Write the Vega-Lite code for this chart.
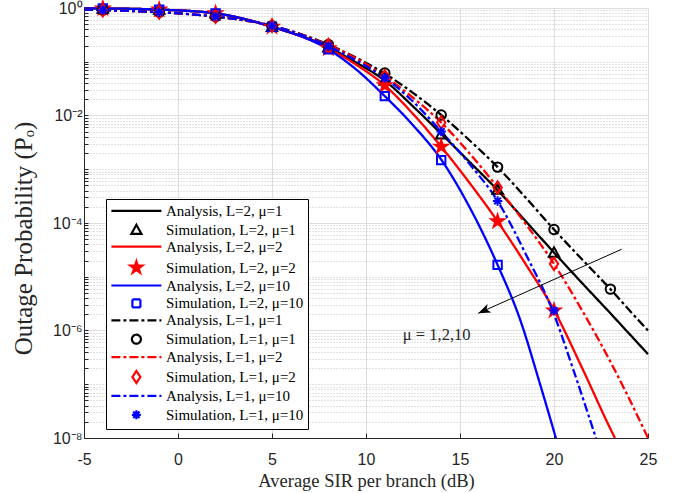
{
  "$schema": "https://vega.github.io/schema/vega-lite/v6.json",
  "width": 564,
  "height": 430,
  "autosize": {"type": "none"},
  "padding": {"left": 84, "top": 8, "right": 38, "bottom": 55},
  "background": "white",
  "config": {
    "view": {"stroke": null},
    "font": "Liberation Sans",
    "legend": {
      "orient": "none", "legendX": 22, "legendY": 191,
      "symbolSize": 100, "symbolStrokeWidth": 2.2, "symbolOpacity": 1,
      "symbolOffset": 18.5, "labelOffset": 22,
      "labelFont": "Liberation Serif", "labelFontSize": 15, "labelColor": "#000000", "labelLimit": 0,
      "rowPadding": 0.9, "padding": 4.4,
      "strokeColor": "#000000", "fillColor": "#ffffff", "cornerRadius": 0
    }
  },
  "datasets": {
    "analysis": [
      {"s":"Analysis, L=2, μ=1","x":-5,"p":0.9886},{"s":"Analysis, L=2, μ=1","x":-4,"p":0.9817},{"s":"Analysis, L=2, μ=1","x":-1,"p":0.9333},{"s":"Analysis, L=2, μ=1","x":2,"p":0.7943},{"s":"Analysis, L=2, μ=1","x":5,"p":0.4467},{"s":"Analysis, L=2, μ=1","x":8,"p":0.1862},{"s":"Analysis, L=2, μ=1","x":9.5,"p":0.0955},{"s":"Analysis, L=2, μ=1","x":11,"p":0.04467},{"s":"Analysis, L=2, μ=1","x":12.5,"p":0.01479},{"s":"Analysis, L=2, μ=1","x":14,"p":0.004571},{"s":"Analysis, L=2, μ=1","x":15.5,"p":0.00138},{"s":"Analysis, L=2, μ=1","x":17,"p":0.0004074},{"s":"Analysis, L=2, μ=1","x":18.5,"p":0.0001072},{"s":"Analysis, L=2, μ=1","x":20,"p":2.818e-5},{"s":"Analysis, L=2, μ=1","x":21.5,"p":7.586e-6},{"s":"Analysis, L=2, μ=1","x":23,"p":2.089e-6},{"s":"Analysis, L=2, μ=1","x":24,"p":8.71e-7},{"s":"Analysis, L=2, μ=1","x":25,"p":3.631e-7},
      {"s":"Analysis, L=2, μ=2","x":-5,"p":0.9886},{"s":"Analysis, L=2, μ=2","x":-4,"p":0.9817},{"s":"Analysis, L=2, μ=2","x":-1,"p":0.9333},{"s":"Analysis, L=2, μ=2","x":2,"p":0.7943},{"s":"Analysis, L=2, μ=2","x":5,"p":0.4467},{"s":"Analysis, L=2, μ=2","x":8,"p":0.1778},{"s":"Analysis, L=2, μ=2","x":9.5,"p":0.0871},{"s":"Analysis, L=2, μ=2","x":11,"p":0.03631},{"s":"Analysis, L=2, μ=2","x":12.5,"p":0.01072},{"s":"Analysis, L=2, μ=2","x":14,"p":0.00263},{"s":"Analysis, L=2, μ=2","x":15.5,"p":0.0005623},{"s":"Analysis, L=2, μ=2","x":17,"p":0.0001072},{"s":"Analysis, L=2, μ=2","x":18.5,"p":1.698e-5},{"s":"Analysis, L=2, μ=2","x":20,"p":2.399e-6},{"s":"Analysis, L=2, μ=2","x":21.5,"p":1.995e-7},{"s":"Analysis, L=2, μ=2","x":23,"p":1.479e-8},{"s":"Analysis, L=2, μ=2","x":23.24,"p":1e-8},
      {"s":"Analysis, L=2, μ=10","x":-5,"p":0.9886},{"s":"Analysis, L=2, μ=10","x":-4,"p":0.9817},{"s":"Analysis, L=2, μ=10","x":-1,"p":0.9333},{"s":"Analysis, L=2, μ=10","x":2,"p":0.7943},{"s":"Analysis, L=2, μ=10","x":5,"p":0.4467},{"s":"Analysis, L=2, μ=10","x":8,"p":0.1698},{"s":"Analysis, L=2, μ=10","x":9.5,"p":0.07079},{"s":"Analysis, L=2, μ=10","x":11,"p":0.02291},{"s":"Analysis, L=2, μ=10","x":12.5,"p":0.006607},{"s":"Analysis, L=2, μ=10","x":14,"p":0.001514},{"s":"Analysis, L=2, μ=10","x":15.5,"p":0.0001995},{"s":"Analysis, L=2, μ=10","x":17,"p":1.66e-5},{"s":"Analysis, L=2, μ=10","x":18.2,"p":1.585e-6},{"s":"Analysis, L=2, μ=10","x":19.26,"p":1e-7},{"s":"Analysis, L=2, μ=10","x":20.1,"p":1e-8},
      {"s":"Analysis, L=1, μ=1","x":-5,"p":0.9333},{"s":"Analysis, L=1, μ=1","x":-4,"p":0.912},{"s":"Analysis, L=1, μ=1","x":-1,"p":0.8318},{"s":"Analysis, L=1, μ=1","x":2,"p":0.6918},{"s":"Analysis, L=1, μ=1","x":5,"p":0.4677},{"s":"Analysis, L=1, μ=1","x":8,"p":0.2089},{"s":"Analysis, L=1, μ=1","x":9.5,"p":0.1175},{"s":"Analysis, L=1, μ=1","x":11,"p":0.06026},{"s":"Analysis, L=1, μ=1","x":12.5,"p":0.0263},{"s":"Analysis, L=1, μ=1","x":14,"p":0.01023},{"s":"Analysis, L=1, μ=1","x":15.5,"p":0.003467},{"s":"Analysis, L=1, μ=1","x":17,"p":0.001096},{"s":"Analysis, L=1, μ=1","x":18.5,"p":0.0002951},{"s":"Analysis, L=1, μ=1","x":20,"p":7.586e-5},{"s":"Analysis, L=1, μ=1","x":21.5,"p":2.089e-5},{"s":"Analysis, L=1, μ=1","x":23,"p":5.888e-6},{"s":"Analysis, L=1, μ=1","x":24,"p":2.399e-6},{"s":"Analysis, L=1, μ=1","x":25,"p":1e-6},
      {"s":"Analysis, L=1, μ=2","x":-5,"p":0.9333},{"s":"Analysis, L=1, μ=2","x":-4,"p":0.912},{"s":"Analysis, L=1, μ=2","x":-1,"p":0.8318},{"s":"Analysis, L=1, μ=2","x":2,"p":0.6918},{"s":"Analysis, L=1, μ=2","x":5,"p":0.4677},{"s":"Analysis, L=1, μ=2","x":8,"p":0.2042},{"s":"Analysis, L=1, μ=2","x":9.5,"p":0.1148},{"s":"Analysis, L=1, μ=2","x":11,"p":0.0537},{"s":"Analysis, L=1, μ=2","x":12.5,"p":0.02138},{"s":"Analysis, L=1, μ=2","x":14,"p":0.007413},{"s":"Analysis, L=1, μ=2","x":15.5,"p":0.001995},{"s":"Analysis, L=1, μ=2","x":17,"p":0.0004571},{"s":"Analysis, L=1, μ=2","x":18.5,"p":9.55e-5},{"s":"Analysis, L=1, μ=2","x":20,"p":1.738e-5},{"s":"Analysis, L=1, μ=2","x":21.5,"p":2.344e-6},{"s":"Analysis, L=1, μ=2","x":23,"p":2.63e-7},{"s":"Analysis, L=1, μ=2","x":24,"p":5.37e-8},{"s":"Analysis, L=1, μ=2","x":25,"p":1e-8},
      {"s":"Analysis, L=1, μ=10","x":-5,"p":0.9333},{"s":"Analysis, L=1, μ=10","x":-4,"p":0.912},{"s":"Analysis, L=1, μ=10","x":-1,"p":0.8318},{"s":"Analysis, L=1, μ=10","x":2,"p":0.6918},{"s":"Analysis, L=1, μ=10","x":5,"p":0.4677},{"s":"Analysis, L=1, μ=10","x":8,"p":0.195},{"s":"Analysis, L=1, μ=10","x":9.5,"p":0.1047},{"s":"Analysis, L=1, μ=10","x":11,"p":0.05012},{"s":"Analysis, L=1, μ=10","x":12.5,"p":0.0182},{"s":"Analysis, L=1, μ=10","x":14,"p":0.005012},{"s":"Analysis, L=1, μ=10","x":15.5,"p":0.001259},{"s":"Analysis, L=1, μ=10","x":17,"p":0.000257},{"s":"Analysis, L=1, μ=10","x":18.5,"p":2.63e-5},{"s":"Analysis, L=1, μ=10","x":20,"p":1.995e-6},{"s":"Analysis, L=1, μ=10","x":21,"p":1.995e-7},{"s":"Analysis, L=1, μ=10","x":22.23,"p":1e-8}
    ],
    "sim": [
      {"s":"Simulation,  L=2, μ=1","x":-4,"p":0.9817},{"s":"Simulation,  L=2, μ=1","x":-1,"p":0.9333},{"s":"Simulation,  L=2, μ=1","x":2,"p":0.7943},{"s":"Simulation,  L=2, μ=1","x":5,"p":0.4467},{"s":"Simulation,  L=2, μ=1","x":8,"p":0.1862},{"s":"Simulation,  L=2, μ=1","x":11,"p":0.04467},{"s":"Simulation,  L=2, μ=1","x":14,"p":0.004467},{"s":"Simulation,  L=2, μ=1","x":17,"p":0.0004169},{"s":"Simulation,  L=2, μ=1","x":20,"p":2.818e-5},
      {"s":"Simulation, L=2, μ=2","x":-4,"p":0.9817},{"s":"Simulation, L=2, μ=2","x":-1,"p":0.9333},{"s":"Simulation, L=2, μ=2","x":2,"p":0.7943},{"s":"Simulation, L=2, μ=2","x":5,"p":0.4467},{"s":"Simulation, L=2, μ=2","x":8,"p":0.1778},{"s":"Simulation, L=2, μ=2","x":11,"p":0.03631},{"s":"Simulation, L=2, μ=2","x":14,"p":0.00263},{"s":"Simulation, L=2, μ=2","x":17,"p":0.0001072},{"s":"Simulation, L=2, μ=2","x":20,"p":2.344e-6},
      {"s":"Simulation, L=2, μ=10","x":-4,"p":0.9817},{"s":"Simulation, L=2, μ=10","x":-1,"p":0.9333},{"s":"Simulation, L=2, μ=10","x":2,"p":0.7943},{"s":"Simulation, L=2, μ=10","x":5,"p":0.4467},{"s":"Simulation, L=2, μ=10","x":8,"p":0.1698},{"s":"Simulation, L=2, μ=10","x":11,"p":0.02291},{"s":"Simulation, L=2, μ=10","x":14,"p":0.001479},{"s":"Simulation, L=2, μ=10","x":17,"p":1.66e-5},
      {"s":"Simulation,  L=1, μ=1","x":-4,"p":0.912},{"s":"Simulation,  L=1, μ=1","x":-1,"p":0.8318},{"s":"Simulation,  L=1, μ=1","x":2,"p":0.6918},{"s":"Simulation,  L=1, μ=1","x":5,"p":0.4677},{"s":"Simulation,  L=1, μ=1","x":8,"p":0.2089},{"s":"Simulation,  L=1, μ=1","x":11,"p":0.06166},{"s":"Simulation,  L=1, μ=1","x":14,"p":0.01023},{"s":"Simulation,  L=1, μ=1","x":17,"p":0.001096},{"s":"Simulation,  L=1, μ=1","x":20,"p":7.586e-5},{"s":"Simulation,  L=1, μ=1","x":23,"p":5.888e-6},
      {"s":"Simulation, L=1, μ=2","x":-4,"p":0.912},{"s":"Simulation, L=1, μ=2","x":-1,"p":0.8318},{"s":"Simulation, L=1, μ=2","x":2,"p":0.6918},{"s":"Simulation, L=1, μ=2","x":5,"p":0.4677},{"s":"Simulation, L=1, μ=2","x":8,"p":0.2042},{"s":"Simulation, L=1, μ=2","x":11,"p":0.0537},{"s":"Simulation, L=1, μ=2","x":14,"p":0.007413},{"s":"Simulation, L=1, μ=2","x":17,"p":0.0004571},{"s":"Simulation, L=1, μ=2","x":20,"p":1.738e-5},
      {"s":"Simulation, L=1, μ=10","x":-4,"p":0.912},{"s":"Simulation, L=1, μ=10","x":-1,"p":0.8318},{"s":"Simulation, L=1, μ=10","x":2,"p":0.6918},{"s":"Simulation, L=1, μ=10","x":5,"p":0.4677},{"s":"Simulation, L=1, μ=10","x":8,"p":0.195},{"s":"Simulation, L=1, μ=10","x":11,"p":0.05012},{"s":"Simulation, L=1, μ=10","x":14,"p":0.005012},{"s":"Simulation, L=1, μ=10","x":17,"p":0.000257},{"s":"Simulation, L=1, μ=10","x":20,"p":2.344e-6}
    ]
  },
  "layer": [
    {
      "data": {"name": "analysis"},
      "mark": {"type": "line", "strokeWidth": 2.3, "interpolate": "monotone"},
      "encoding": {
        "x": {
          "field": "x", "type": "quantitative",
          "scale": {"domain": [-5, 25], "nice": false, "zero": false},
          "axis": {
            "values": [-5, 0, 5, 10, 15, 20, 25],
            "labelExpr": "datum.value < 0 ? '-' + abs(datum.value) : '' + datum.value",
            "grid": true, "gridColor": "#dedede", "gridWidth": 1,
            "tickSize": -5, "tickColor": "#262626", "domainColor": "#262626",
            "labelFlush": false, "labelFont": "Liberation Sans", "labelFontSize": 16, "labelColor": "#262626", "labelPadding": 18,
            "title": "Average SIR per branch (dB)", "titleFont": "Liberation Serif", "titleFontSize": 18.5, "titleFontWeight": "normal", "titleColor": "#262626",
            "titleY": 48.7, "titleBaseline": "alphabetic"
          }
        },
        "y": {
          "field": "p", "type": "quantitative",
          "scale": {"type": "log", "domain": [1e-8, 1], "nice": false},
          "axis": {
            "values": [1e-8,2e-8,3e-8,4e-8,5e-8,6e-8,7e-8,8e-8,9e-8,1e-7,2e-7,3e-7,4e-7,5e-7,6e-7,7e-7,8e-7,9e-7,1e-6,2e-6,3e-6,4e-6,5e-6,6e-6,7e-6,8e-6,9e-6,1e-5,2e-5,3e-5,4e-5,5e-5,6e-5,7e-5,8e-5,9e-5,0.0001,0.0002,0.0003,0.0004,0.0005,0.0006,0.0007,0.0008,0.0009,0.001,0.002,0.003,0.004,0.005,0.006,0.007,0.008,0.009,0.01,0.02,0.03,0.04,0.05,0.06,0.07,0.08,0.09,0.1,0.2,0.3,0.4,0.5,0.6,0.7,0.8,0.9,1],
            "grid": true,
            "gridColor": {"condition": {"test": "abs(log(datum.value)/LN10 - round(log(datum.value)/LN10)) < 0.001 && round(log(datum.value)/LN10) % 2 == 0", "value": "#dedede"}, "value": "#c4c4c4"},
            "gridDash": {"condition": {"test": "abs(log(datum.value)/LN10 - round(log(datum.value)/LN10)) < 0.001 && round(log(datum.value)/LN10) % 2 == 0", "value": []}, "value": [1, 2]},
            "labelExpr": "(abs(log(datum.value)/LN10 - round(log(datum.value)/LN10)) < 0.001 && round(log(datum.value)/LN10) % 2 == 0) ? '10' + (datum.value > 0.5 ? '⁰' : '⁻' + ['','','²','','⁴','','⁶','','⁸'][round(-log(datum.value)/LN10)]) : ''",
            "labelOverlap": false, "labelFlush": false,
            "labelFont": "Liberation Sans", "labelFontSize": 16, "labelColor": "#262626", "labelPadding": 6,
            "tickSize": -4, "tickColor": "#262626", "domainColor": "#262626",
            "title": "Outage Probability (Pₒ)", "titleFont": "Liberation Serif", "titleFontSize": 25, "titleFontWeight": "normal", "titleColor": "#262626",
            "titleX": -53, "titleY": 230, "titleBaseline": "alphabetic"
          }
        },
        "color": {
          "field": "s", "type": "nominal",
          "scale": {
            "domain": ["Analysis, L=2, μ=1","Simulation,  L=2, μ=1","Analysis, L=2, μ=2","Simulation, L=2, μ=2","Analysis, L=2, μ=10","Simulation, L=2, μ=10","Analysis, L=1, μ=1","Simulation,  L=1, μ=1","Analysis, L=1, μ=2","Simulation, L=1, μ=2","Analysis, L=1, μ=10","Simulation, L=1, μ=10"],
            "range": ["#000000","#000000","#ff0000","#ff0000","#0000ff","#0000ff","#000000","#000000","#ff0000","#ff0000","#0000ff","#0000ff"]
          },
          "legend": {"title": null}
        },
        "strokeDash": {
          "field": "s", "type": "nominal",
          "scale": {
            "domain": ["Analysis, L=2, μ=1","Simulation,  L=2, μ=1","Analysis, L=2, μ=2","Simulation, L=2, μ=2","Analysis, L=2, μ=10","Simulation, L=2, μ=10","Analysis, L=1, μ=1","Simulation,  L=1, μ=1","Analysis, L=1, μ=2","Simulation, L=1, μ=2","Analysis, L=1, μ=10","Simulation, L=1, μ=10"],
            "range": [[1, 0], [1, 0], [1, 0], [1, 0], [1, 0], [1, 0], [9, 3, 3, 3], [1, 0], [9, 3, 3, 3], [1, 0], [9, 3, 3, 3], [1, 0]]
          },
          "legend": {"title": null}
        }
      }
    },
    {
      "data": {"name": "sim"},
      "mark": {"type": "point", "filled": false, "strokeWidth": 2, "size": 110, "opacity": 1},
      "encoding": {
        "x": {"field": "x", "type": "quantitative", "scale": {"domain": [-5, 25], "nice": false, "zero": false}},
        "y": {"field": "p", "type": "quantitative", "scale": {"type": "log", "domain": [1e-8, 1], "nice": false}},
        "color": {
          "field": "s", "type": "nominal",
          "scale": {
            "domain": ["Analysis, L=2, μ=1","Simulation,  L=2, μ=1","Analysis, L=2, μ=2","Simulation, L=2, μ=2","Analysis, L=2, μ=10","Simulation, L=2, μ=10","Analysis, L=1, μ=1","Simulation,  L=1, μ=1","Analysis, L=1, μ=2","Simulation, L=1, μ=2","Analysis, L=1, μ=10","Simulation, L=1, μ=10"],
            "range": ["#000000","#000000","#ff0000","#ff0000","#0000ff","#0000ff","#000000","#000000","#ff0000","#ff0000","#0000ff","#0000ff"]
          },
          "legend": {"title": null}
        },
        "shape": {
          "field": "s", "type": "nominal",
          "scale": {
            "domain": ["Analysis, L=2, μ=1","Simulation,  L=2, μ=1","Analysis, L=2, μ=2","Simulation, L=2, μ=2","Analysis, L=2, μ=10","Simulation, L=2, μ=10","Analysis, L=1, μ=1","Simulation,  L=1, μ=1","Analysis, L=1, μ=2","Simulation, L=1, μ=2","Analysis, L=1, μ=10","Simulation, L=1, μ=10"],
            "range": [
              "M-5,0L5,0",
              "M0,-1L1,0.8L-1,0.8Z",
              "M-5,0L5,0",
              "M0,-1.25L0.2807,-0.3863L1.1888,-0.3863L0.4541,0.1476L0.7347,1.0113L0,0.4775L-0.7347,1.0113L-0.4541,0.1476L-1.1888,-0.3863L-0.2807,-0.3863ZM0,-0.8125L0.1825,-0.2511L0.7727,-0.2511L0.2952,0.0959L0.4776,0.6573L0,0.3104L-0.4776,0.6573L-0.2952,0.0959L-0.7727,-0.2511L-0.1825,-0.2511ZM0,-0.375L0.0842,-0.1159L0.3566,-0.1159L0.1362,0.0443L0.2204,0.3034L0,0.1433L-0.2204,0.3034L-0.1362,0.0443L-0.3566,-0.1159L-0.0842,-0.1159Z",
              "M-5,0L5,0",
              "M-0.8,-0.8L0.8,-0.8L0.8,0.8L-0.8,0.8Z",
              "M-5,0L5,0",
              "M0.9,0A0.9,0.9,0,1,1,-0.9,0A0.9,0.9,0,1,1,0.9,0Z",
              "M-5,0L5,0",
              "M0,-1.2L0.8,0L0,1.2L-0.8,0Z",
              "M-5,0L5,0",
              "M0,-0.9L0,0.9M-0.9,0L0.9,0M-0.64,-0.64L0.64,0.64M-0.64,0.64L0.64,-0.64"
            ]
          },
          "legend": {"title": null}
        }
      }
    },
    {
      "data": {"values": [{"n": 1}]},
      "mark": {"type": "rule", "strokeWidth": 1, "color": "#000000"},
      "encoding": {
        "x": {"datum": 23.6, "type": "quantitative"},
        "y": {"datum": 3.25e-5, "type": "quantitative"},
        "x2": {"datum": 15.97},
        "y2": {"datum": 2.09e-6}
      }
    },
    {
      "data": {"values": [{"n": 1}]},
      "mark": {"type": "point", "filled": true, "shape": "M0,0L-1,-0.38L-0.75,0L-1,0.38Z", "size": 600, "angle": 156, "strokeWidth": 0, "opacity": 1, "color": "#000000"},
      "encoding": {
        "x": {"datum": 15.97, "type": "quantitative"},
        "y": {"datum": 2.09e-6, "type": "quantitative"}
      }
    },
    {
      "data": {"values": [{"n": 1}]},
      "mark": {"type": "text", "text": "μ = 1,2,10", "font": "Liberation Serif", "fontSize": 16.5, "align": "center", "baseline": "alphabetic", "color": "#262626"},
      "encoding": {
        "x": {"datum": 13.76, "type": "quantitative"},
        "y": {"datum": 6.54e-7, "type": "quantitative"}
      }
    }
  ]
}
